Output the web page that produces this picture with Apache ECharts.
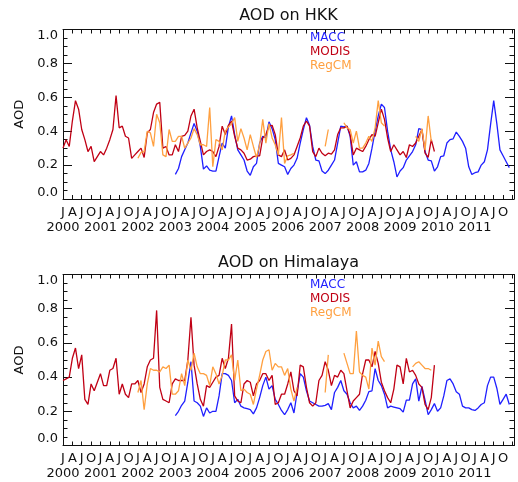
<!DOCTYPE html>
<html>
<head>
<meta charset="utf-8">
<script src="https://cdn.jsdelivr.net/npm/echarts@6/dist/echarts.min.js"></script>
<style>
html, body { margin: 0; padding: 0; background: #fff; }
#main { width: 518px; height: 482px; }
</style>
</head>
<body>
<div id="main"></div>
<script>
// x is the month counted from Jan 2000
var firstYear = 2000;
var monthLetters = ['J', 'A', 'J', 'O'];
var yTicks = [0, 0.2, 0.4, 0.6, 0.8, 1.0];

var titles = ['AOD on HKK', 'AOD on Himalaya'];
var names = ['MACC', 'MODIS', 'RegCM'];
var colors = ['#1f1fff', '#c00014', '#ffa040'];

// first month of each series
var maccStart = 36, modisStart = 0, regcmStart = 24;

// ---- HKK ----
var hkkModis = [
  0.30, 0.35, 0.31, 0.46, 0.58, 0.53, 0.41, 0.35, 0.28, 0.31, 0.22, 0.25,
  0.28, 0.26, 0.30, 0.35, 0.41, 0.61, 0.42, 0.43, 0.37, 0.36, 0.24, 0.26,
  0.28, 0.30, 0.245, 0.39, 0.41, 0.51, 0.56, 0.57, 0.30, 0.31, 0.26, 0.26,
  0.32, 0.28, 0.37, 0.375, 0.40, 0.49, 0.53, 0.42, 0.34, 0.26, 0.28, 0.29,
  0.28, 0.25, 0.31, 0.43, 0.38, 0.435, 0.46, 0.37, 0.30, 0.29, 0.27, 0.23,
  0.235, 0.25, 0.255, 0.255, 0.36, 0.38, 0.43, 0.435, 0.38, 0.26, 0.25, 0.29,
  0.23, 0.24, 0.26, 0.31, 0.36, 0.43, 0.46, 0.43, 0.28, 0.25, 0.30, 0.27,
  0.255, 0.27, 0.265, 0.29, 0.38, 0.42, 0.42, 0.43, 0.38, 0.26, 0.30, 0.29,
  0.28, 0.31, 0.35, 0.38, 0.37, 0.45, 0.53, 0.47, 0.36, 0.28, 0.32, 0.29,
  0.26, 0.28, 0.245, 0.32, 0.31, 0.33, 0.37, 0.41, 0.27, 0.245, 0.35, 0.28
];
var hkkMacc = [
  0.145, 0.18, 0.25, 0.29, 0.33, 0.39, 0.445, 0.40, 0.31, 0.176, 0.195, 0.17,
  0.165, 0.165, 0.25, 0.33, 0.30, 0.425, 0.49, 0.38, 0.29, 0.26, 0.23, 0.165,
  0.14, 0.19, 0.21, 0.33, 0.37, 0.36, 0.455, 0.415, 0.35, 0.21, 0.20, 0.19,
  0.145, 0.18, 0.20, 0.24, 0.33, 0.41, 0.48, 0.435, 0.31, 0.23, 0.225, 0.165,
  0.15, 0.17, 0.20, 0.23, 0.33, 0.43, 0.425, 0.43, 0.37, 0.20, 0.22, 0.16,
  0.16, 0.17, 0.21, 0.30, 0.40, 0.49, 0.56, 0.54, 0.40, 0.29, 0.22, 0.13,
  0.165, 0.185, 0.23, 0.255, 0.28, 0.32, 0.415, 0.41, 0.28, 0.23, 0.225, 0.165,
  0.19, 0.25, 0.255, 0.33, 0.35, 0.355, 0.395, 0.37, 0.34, 0.30, 0.19, 0.145,
  0.155, 0.16, 0.20, 0.22, 0.29, 0.44, 0.58, 0.445, 0.29, 0.255, 0.22, 0.185
];
var hkkRegcm = [
  0.24, 0.275, 0.28, 0.40, 0.39, 0.31, 0.50, 0.45, 0.26, 0.25, 0.41, 0.34,
  0.34, 0.37, 0.37, 0.30, 0.33, 0.36, 0.415, 0.38, 0.32, 0.32, 0.31, 0.54,
  0.19, 0.35, 0.34, 0.29, 0.40, 0.425, 0.445, 0.48, 0.34, 0.415, 0.36, 0.29,
  0.38, 0.31, 0.245, 0.32, 0.47, 0.33, 0.445, 0.36, 0.32, 0.26, 0.48, 0.21,
  0.255, 0.26, 0.27, null, null, null, null, null, null, null, null, null,
  0.31, 0.41, null, null, null, null, 0.45, 0.42, 0.41, 0.33, 0.40, 0.30,
  0.30, 0.33, 0.37, 0.34, 0.42, 0.58, 0.45, 0.43, null, null, null, null,
  null, null, null, null, null, 0.37, 0.34, 0.415, 0.29, 0.49, 0.34
];

// ---- Himalaya ----
var himModis = [
  0.38, 0.39, 0.40, 0.51, 0.57, 0.45, 0.53, 0.27, 0.24, 0.36, 0.32, 0.37,
  0.42, 0.35, 0.35, 0.44, 0.45, 0.51, 0.30, 0.36, 0.30, 0.28, 0.36, 0.36,
  0.38, 0.31, 0.36, 0.46, 0.50, 0.51, 0.79, 0.34, 0.27, 0.26, 0.25, 0.36,
  0.39, 0.38, 0.38, 0.38, 0.50, 0.75, 0.47, 0.36, 0.27, 0.23, 0.35, 0.34,
  0.37, 0.40, 0.41, 0.51, 0.45, 0.51, 0.71, 0.29, 0.26, 0.25, 0.36, 0.38,
  0.37, 0.29, 0.36, 0.38, 0.42, 0.42, 0.38, 0.41, 0.24, 0.25, 0.30, 0.30,
  0.36, 0.43, 0.32, 0.29, 0.47, 0.46, 0.34, 0.25, 0.23, 0.25, 0.38, 0.41,
  0.49, 0.44, 0.35, 0.41, 0.40, 0.44, 0.42, 0.32, 0.22, 0.26, 0.28, 0.30,
  0.42, 0.50, 0.50, 0.46, 0.55, 0.48, 0.37, 0.32, 0.28, 0.25, 0.33, 0.47,
  0.46, 0.36, 0.51, 0.43, 0.44, 0.41, 0.36, 0.34, 0.24, 0.21, 0.28, 0.47
];
var himMacc = [
  0.175, 0.20, 0.235, 0.26, 0.37, 0.49, 0.26, 0.25, 0.23, 0.17, 0.22, 0.19,
  0.20, 0.20, 0.29, 0.42, 0.42, 0.41, 0.38, 0.25, 0.27, 0.23, 0.22, 0.215,
  0.21, 0.185, 0.22, 0.28, 0.35, 0.40, 0.33, 0.35, 0.27, 0.24, 0.205, 0.18,
  0.21, 0.25, 0.19, 0.31, 0.42, 0.40, 0.32, 0.26, 0.25, 0.24, 0.23, 0.23,
  0.235, 0.245, 0.21, 0.31, 0.34, 0.38, 0.32, 0.30, 0.25, 0.22, 0.23, 0.205,
  0.23, 0.265, 0.315, 0.32, 0.45, 0.38, 0.35, 0.30, 0.22, 0.23, 0.225, 0.22,
  0.215, 0.195, 0.265, 0.265, 0.36, 0.39, 0.26, 0.345, 0.265, 0.18, 0.21, 0.245,
  0.20, 0.22, 0.29, 0.38, 0.39, 0.36, 0.315, 0.30, 0.23, 0.22, 0.22, 0.21,
  0.205, 0.22, 0.24, 0.25, 0.35, 0.40, 0.40, 0.335, 0.24, 0.27, 0.30, 0.24
];
var himRegcm = [
  0.31, 0.38, 0.21, 0.36, 0.45, 0.44, 0.44, 0.43, 0.46, 0.45, 0.47, 0.30,
  0.30, 0.32, 0.42, 0.35, 0.50, 0.44, 0.54, 0.46, 0.42, 0.42, 0.41, 0.35,
  0.46, 0.42, 0.36, 0.41, 0.50, 0.50, 0.53, 0.38, 0.50, 0.32, 0.33, 0.31,
  0.30, 0.24, 0.33, 0.41, 0.50, 0.55, 0.56, 0.44, 0.48, 0.46, 0.46, 0.41,
  0.45, 0.33, 0.26, 0.34, null, null, null, null, null, null, null, null,
  0.31, 0.53, null, null, null, null, 0.54, 0.48, 0.42, 0.42, 0.67, 0.43,
  0.41, 0.40, 0.33, 0.57, 0.47, 0.61, 0.52, 0.49, null, null, null, null,
  null, null, null, null, 0.46, 0.48, 0.49, 0.47, 0.45, 0.45, 0.44
];

var panels = [
  { macc: hkkMacc, modis: hkkModis, regcm: hkkRegcm, top: 29.5, height: 169.5, titleTop: 8, legendTop: 31 },
  { macc: himMacc, modis: himModis, regcm: himRegcm, top: 274.5, height: 171, titleTop: 255, legendTop: 278 }
];

var font = 'DejaVu Sans';
var ink = '#111';
var xMax = 144.5;
var lastMonth = 141;

function pairs(values, start) {
  return values.map(function (v, i) { return [start + i, v]; });
}

function letterLabel(v) {
  if (v % 3 !== 0 || v > lastMonth) return '';
  return monthLetters[(v / 3) % 4];
}

function yearLabel(v) {
  if (v % 12 !== 0 || v > lastMonth) return '';
  return String(firstYear + v / 12);
}

var grid = [], xAxis = [], yAxis = [], series = [], title = [], legend = [];

panels.forEach(function (p, g) {
  grid.push({ left: 63, top: p.top, width: 451, height: p.height });

  title.push({
    text: titles[g], left: 288.5, top: p.titleTop, textAlign: 'center', padding: 0,
    textStyle: { fontFamily: font, fontSize: 16, fontWeight: 'normal', color: ink }
  });

  legend.push({
    left: 305, top: p.legendTop, orient: 'vertical', icon: 'none',
    itemWidth: 0, itemHeight: 14, itemGap: 0, selectedMode: false, padding: 0,
    textStyle: { fontFamily: font, fontSize: 12, lineHeight: 14 },
    data: names.map(function (n, i) { return { name: n, textStyle: { color: colors[i] } }; })
  });

  var axisLine = { show: true, onZero: false, lineStyle: { color: ink, width: 1 } };
  var labelFont = { color: ink, fontFamily: font, fontSize: 13 };
  var base = g * 3;

  // bottom axis: month letters
  xAxis.push({
    type: 'value', gridIndex: g, position: 'bottom', min: 0, max: xMax, interval: 3,
    axisLine: axisLine,
    axisTick: { inside: true, length: 4, lineStyle: { color: ink } },
    axisLabel: Object.assign({ formatter: letterLabel, interval: 0, margin: 7, hideOverlap: false }, labelFont),
    splitLine: { show: false }
  });
  // top frame
  xAxis.push({
    type: 'value', gridIndex: g, position: 'top', min: 0, max: xMax, interval: 3,
    axisLine: axisLine,
    axisTick: { inside: true, length: 4, lineStyle: { color: ink } },
    axisLabel: { show: false },
    splitLine: { show: false }
  });
  // years, one line below the letters
  xAxis.push({
    type: 'value', gridIndex: g, position: 'bottom', offset: 15, min: 0, max: xMax, interval: 12,
    axisLine: { show: false }, axisTick: { show: false },
    axisLabel: Object.assign({ formatter: yearLabel, interval: 0, margin: 7, hideOverlap: false }, labelFont),
    splitLine: { show: false }
  });

  var yCommon = {
    type: 'value', gridIndex: g, min: yTicks[0], max: yTicks[yTicks.length - 1], interval: 0.2,
    axisLine: axisLine,
    axisTick: { inside: true, length: 9, lineStyle: { color: ink } },
    minorTick: { show: true, splitNumber: 4, length: 4.5, lineStyle: { color: ink } },
    splitLine: { show: false }
  };
  yAxis.push(Object.assign({}, yCommon, {
    position: 'left',
    name: 'AOD', nameLocation: 'middle', nameGap: 30, nameRotate: 90,
    nameTextStyle: { fontFamily: font, fontSize: 13, color: ink },
    axisLabel: Object.assign({
      margin: 5,
      formatter: function (v) { return v.toFixed(1); },
      verticalAlignMinLabel: 'bottom', verticalAlignMaxLabel: 'top'
    }, labelFont)
  }));
  yAxis.push(Object.assign({}, yCommon, { position: 'right', axisLabel: { show: false } }));

  var sets = [[p.macc, maccStart], [p.modis, modisStart], [p.regcm, regcmStart]];
  sets.forEach(function (s, i) {
    series.push({
      name: names[i], type: 'line',
      xAxisIndex: base, yAxisIndex: g * 2,
      data: pairs(s[0], s[1]),
      showSymbol: false, connectNulls: false, silent: true,
      lineStyle: { color: colors[i], width: 1.3 },
      itemStyle: { color: colors[i] }
    });
  });
});

var chart = echarts.init(document.getElementById('main'));
chart.setOption({
  backgroundColor: '#fff',
  animation: false,
  title: title,
  legend: legend,
  grid: grid,
  xAxis: xAxis,
  yAxis: yAxis,
  series: series
});
</script>
</body>
</html>
